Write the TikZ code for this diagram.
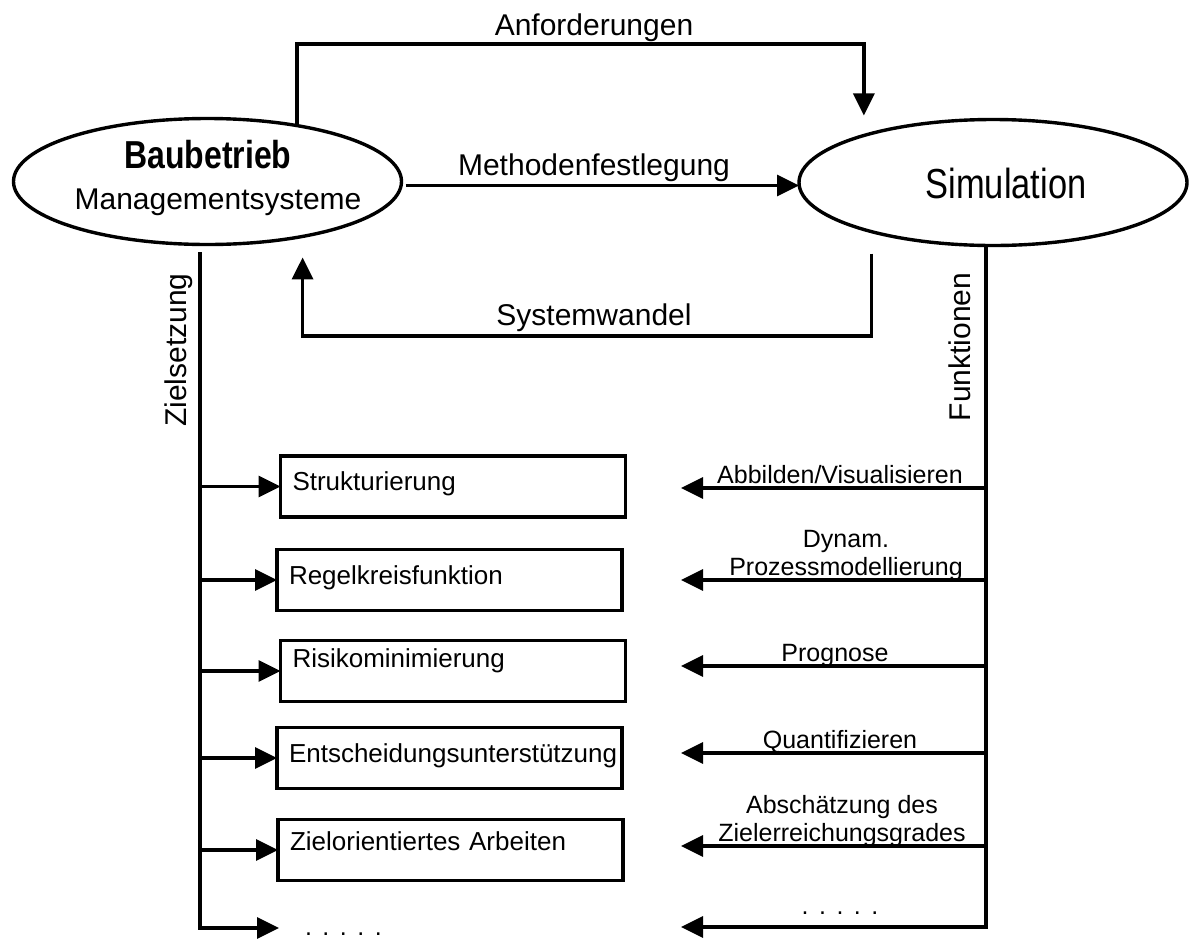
\documentclass[tikz,border=0pt]{standalone}
\usepackage{fontspec}
\usepackage{graphicx}
\setmainfont{Liberation Sans}
\usetikzlibrary{arrows.meta,shapes.geometric}

\begin{document}
\begin{tikzpicture}[x=1pt,y=-1pt,
  every node/.style={inner sep=0pt, outer sep=0pt},
  wire/.style={line width=3.4pt},
  arr/.style={wire, -{Triangle[length=22pt,width=21pt]}},
  oval/.style={ellipse, draw, line width=3.4pt, minimum width=388pt, minimum height=126pt},
  taskbox/.style={draw, line width=3.4pt, minimum width=345pt, minimum height=61pt,
    text width=321pt, align=left, text height=18pt, text depth=10pt,
    font=\fontsize{26}{30}\selectfont},
  biglab/.style={font=\fontsize{30}{34}\selectfont, anchor=base},
  fnlab/.style={font=\fontsize{25}{28}\selectfont, align=center, anchor=south, text depth=5pt},
  dotlab/.style={font=\fontsize{25}{28}\selectfont\addfontfeature{LetterSpace=42}},
]
\useasboundingbox (0,0) rectangle (1189,938);
\fill[white] (0,0) rectangle (1189,938);

% the two main systems
\node[oval] (bau) at (207.5,181.5) {};
\node[anchor=base, font=\fontsize{39}{44}\selectfont\bfseries] (bauT) at (208,168) {\scalebox{0.82}[1]{Baubetrieb}};
\node[biglab] (bauS) at (218,209) {Managementsysteme};

\node[oval] (sim) at (993,182.5) {};
\node[anchor=base, font=\fontsize{42}{46}\selectfont] (simT) at (1006,198) {\scalebox{0.82}[1]{Simulation}};

% links between the two systems
\coordinate (railA) at (0,44);
\coordinate (railS) at (0,336);
\draw[arr, shorten >=20pt] (bau.32) -- (bau.32 |- railA) -| (sim.160);
\draw[arr, shorten <=4pt] ([yshift=-4pt]bau.east) -- ([yshift=-4pt]bau.east -| sim.west);
\draw[arr, shorten <=22pt, shorten >=21pt] (sim.202) -- (sim.202 |- railS) -| (bau.-30);

\node[biglab] (anfL) at (594,35) {Anforderungen};
\node[biglab] (metL) at (594,175) {Methodenfestlegung};
\node[biglab] (sysL) at (594,325) {Systemwandel};

% goals branch
\node[biglab, rotate=90] (zielL) at (186,350) {Zielsetzung};
\node[taskbox] (b1) at (453,486.5) {Strukturierung};
\node[taskbox] (b2) at (449.5,580) {Regelkreisfunktion};
\node[taskbox] (b3) at (453,671) {\raisebox{8pt}[0pt][0pt]{Risikominimierung}};
\node[taskbox] (b4) at (449.5,758) {Entscheidungsunterstützung};
\node[taskbox] (b5) at (450.5,850) {\raisebox{4pt}[0pt][0pt]{Zielorientiertes Arbeiten}};
\node[dotlab, anchor=base west] (dotsL) at (305,935) {.....};

\coordinate (ztop) at (200,252);
\coordinate (zend) at (279,928);
\draw[arr] (ztop) |- (zend);
\foreach \b in {b1,b2,b3,b4,b5}
  \draw[arr] (ztop |- \b.west) -- (\b.west);

% functions branch
\node[biglab, rotate=90] (funL) at (970,347) {Funktionen};
\coordinate (ftop) at (986,246);
\coordinate (r1) at (681,488);
\coordinate (r2) at (681,580);
\coordinate (r3) at (681,666);
\coordinate (r4) at (681,753);
\coordinate (r5) at (681,846);
\coordinate (r6) at (681,927);
\draw[arr] (ftop) |- (r6);
\foreach \r in {r1,r2,r3,r4,r5}
  \draw[arr] (ftop |- \r) -- (\r);

\node[fnlab] (l1) at (840,488) {Abbilden/Visualisieren};
\node[fnlab] (l2) at (846,580) {Dynam.\\Prozessmodellierung};
\node[fnlab] (l3) at (835,666) {Prognose};
\node[fnlab] (l4) at (840,753) {Quantifizieren};
\node[fnlab] (l5) at (842,846) {Abschätzung des\\Zielerreichungsgrades};
\node[dotlab, anchor=base] (l6) at (840,914) {.....};
\end{tikzpicture}
\end{document}
